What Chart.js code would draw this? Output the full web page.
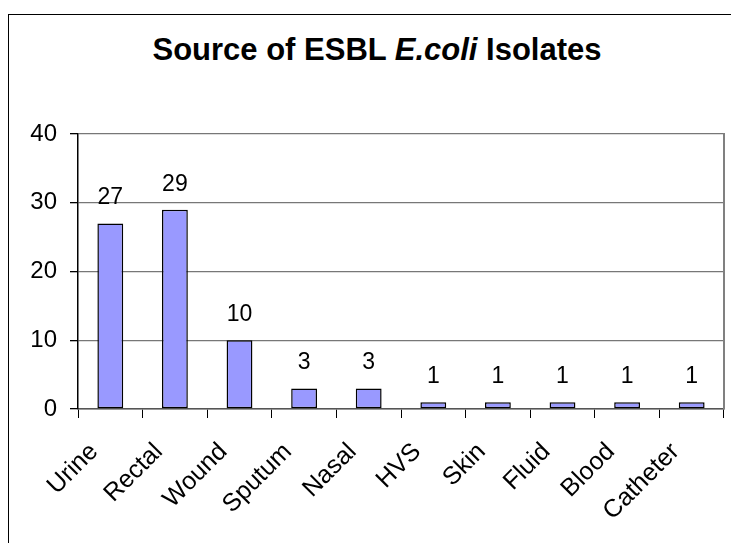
<!DOCTYPE html>
<html>
<head>
<meta charset="utf-8">
<script src="https://cdn.jsdelivr.net/npm/chart.js@4.4.1/dist/chart.umd.min.js"></script>
<style>
  html, body { margin: 0; padding: 0; background: #fff; overflow: hidden; }
  body { width: 731px; height: 543px; position: relative; }
  #frame { position: absolute; left: 8px; top: 14px; width: 723px; height: 529px;
           border-left: 1px solid #000; border-top: 1px solid #000; box-sizing: border-box; }
  #title { position: absolute; left: 8px; width: 738px; top: 34px; text-align: center; white-space: nowrap;
           font: bold 31px/31px "Liberation Sans", Arial, sans-serif; color: #000; }
  #wrap { position: absolute; left: 0; top: 0; width: 731px; height: 543px; }
</style>
</head>
<body>
<div id="frame"></div>
<div id="title">Source of ESBL <i>E.coli</i> Isolates</div>
<div id="wrap"><canvas id="chart"></canvas></div>
<script>
// isolate sources and counts
const categories = ['Urine', 'Rectal', 'Wound', 'Sputum', 'Nasal', 'HVS', 'Skin', 'Fluid', 'Blood', 'Catheter'];
const isolates = [27, 29, 10, 3, 3, 1, 1, 1, 1, 1];
const yTicks = [0, 10, 20, 30, 40];

const FONT = '"Liberation Sans", Arial, sans-serif';

// value labels above each bar
const barLabels = {
  id: 'barLabels',
  afterDatasetsDraw(chart) {
    const ctx = chart.ctx;
    const meta = chart.getDatasetMeta(0);
    ctx.save();
    ctx.font = '23px ' + FONT;
    ctx.fillStyle = '#000';
    ctx.textAlign = 'center';
    ctx.textBaseline = 'alphabetic';
    meta.data.forEach((bar, i) => {
      ctx.fillText(String(isolates[i]), bar.x, bar.y - 19);
    });
    ctx.restore();
  }
};

// slanted category names, placed a bit left of each tick like the original
const slantLabels = {
  id: 'slantLabels',
  afterDraw(chart) {
    const ctx = chart.ctx;
    const xs = chart.scales.x;
    ctx.save();
    ctx.font = '25px ' + FONT;
    ctx.fillStyle = '#000';
    ctx.textAlign = 'right';
    ctx.textBaseline = 'top';
    categories.forEach((name, i) => {
      const x = xs.getPixelForTick(i) - 25;
      const y = xs.top + 30;
      ctx.save();
      ctx.translate(x, y);
      ctx.rotate(-Math.PI / 4);
      ctx.fillText(name, 0, 0);
      ctx.restore();
    });
    ctx.restore();
  }
};

// grey right edge of the plot area
const plotEdge = {
  id: 'plotEdge',
  beforeDatasetsDraw(chart) {
    const a = chart.chartArea;
    const ctx = chart.ctx;
    ctx.save();
    ctx.strokeStyle = '#808080';
    ctx.lineWidth = 2;
    ctx.beginPath();
    ctx.moveTo(a.right, a.top - 1);
    ctx.lineTo(a.right, a.bottom);
    ctx.stroke();
    ctx.restore();
  }
};

new Chart(document.getElementById('chart'), {
  type: 'bar',
  data: {
    labels: categories,
    datasets: [{
      data: isolates,
      backgroundColor: '#9999FF',
      borderColor: '#000',
      borderWidth: 1.5,
      borderSkipped: false,
      barPercentage: 0.8,
      categoryPercentage: 0.5
    }]
  },
  options: {
    responsive: true,
    maintainAspectRatio: false,
    animation: false,
    layout: { padding: { left: 0, right: 7, top: 134, bottom: 0 } },
    plugins: {
      legend: { display: false },
      tooltip: { enabled: false }
    },
    scales: {
      x: {
        grid: { offset: true, drawOnChartArea: false, tickLength: 9, tickColor: '#000', lineWidth: 1 },
        border: { color: '#555', width: 1.5 },
        ticks: { display: false },
        afterFit(scale) { scale.height = 134; }
      },
      y: {
        min: 0,
        max: 40,
        afterBuildTicks(scale) { scale.ticks = yTicks.map(v => ({ value: v })); },
        grid: { color: '#777', lineWidth: 1.3, tickLength: 8, tickColor: '#000' },
        border: { color: '#000', width: 1.5 },
        ticks: {
          color: '#000',
          font: { family: FONT, size: 24 },
          padding: 13
        },
        afterFit(scale) { scale.width = 78; }
      }
    }
  },
  plugins: [barLabels, slantLabels, plotEdge]
});
</script>
</body>
</html>
